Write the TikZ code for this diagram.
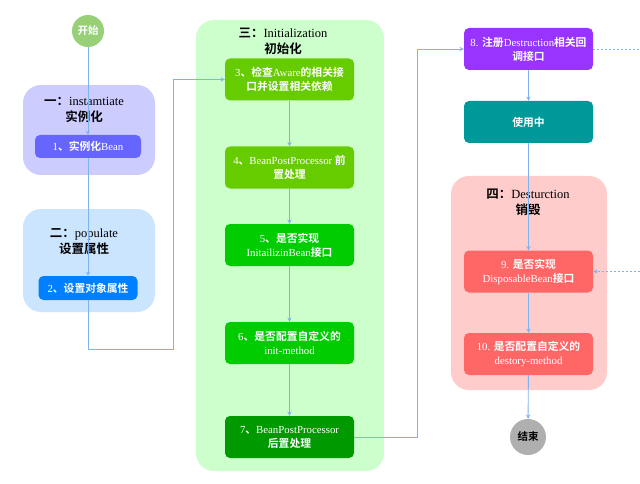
\documentclass[tikz,border=0pt]{standalone}
\usepackage{fontspec}
\setmainfont{Liberation Serif}
\newfontfamily\cjk{Noto Sans CJK SC}[BoldFont={Noto Sans CJK SC Bold}]
\usetikzlibrary{calc}
\definecolor{linkblue}{RGB}{126,178,240}
\definecolor{startgreen}{HTML}{97D077}
\definecolor{phaseA}{HTML}{CCCCFF}
\definecolor{phaseB}{HTML}{CCE5FF}
\definecolor{phaseC}{HTML}{CCFFCC}
\definecolor{phaseD}{HTML}{FFCCCC}
\definecolor{boxA}{HTML}{6666FF}
\definecolor{boxB}{HTML}{007FFF}
\definecolor{boxC}{HTML}{66CC00}
\definecolor{boxD}{HTML}{00CC00}
\definecolor{boxE}{HTML}{009900}
\definecolor{boxF}{HTML}{9933FF}
\definecolor{boxG}{HTML}{009999}
\definecolor{boxH}{HTML}{FF6666}
\definecolor{endgray}{HTML}{AFAFAF}
\tikzset{
  stepbox/.style={rounded corners=5pt, draw=none, text=white, align=center,
    minimum width=129pt, minimum height=42pt, inner sep=2pt,
    font=\fontsize{10.8}{14}\selectfont},
  phasebox/.style={rounded corners=18pt, draw=none},
  phasetitle/.style={align=center, font=\fontsize{12.5}{16}\selectfont},
  link/.style={draw=linkblue, line width=0.9pt, -stealth},
  dotlink/.style={draw=linkblue, line width=0.9pt, dash pattern=on 2pt off 2pt}
}
\newcommand{\zh}[1]{{\cjk\bfseries #1}}
\newcommand{\phase}[6]{\node[phasebox, fill=#6, minimum width=#4pt, minimum height=#5pt] (#1) at (#2,#3) {};}
\newcommand{\stage}[5]{\node[stepbox, #4] (#1) at (#2,#3) {#5};}

\begin{document}
\begin{tikzpicture}[x=1pt,y=-1pt]
        \useasboundingbox (0,0) rectangle (640,484);
        % phases
        \phase{g1}{89}{130}{132}{90}{phaseA}
        \phase{g2}{89}{260.5}{132}{103}{phaseB}
        \phase{g3}{290}{245.5}{188}{451}{phaseC}
        \phase{g4}{529}{283}{156}{214}{phaseD}
        % phase titles
        \node[phasetitle] (t1) at (84,110) {\zh{一：}instamtiate\\\zh{实例化}};
        \node[phasetitle] (t2) at (84,242) {\zh{二：}populate\\\zh{设置属性}};
        \node[phasetitle] (t3) at (283,41) {\zh{三：}Initialization\\\zh{初始化}};
        \node[phasetitle] (t4) at (528,202) {\zh{四：}Desturction\\\zh{销毁}};
        % start and end
        \node[circle, fill=startgreen, minimum size=32pt, inner sep=0pt, text=white,
          font=\fontsize{10.5}{12}\selectfont] (start) at (88,31) {\zh{开始}};
        \node[circle, fill=endgray, minimum size=36pt, inner sep=0pt,
          font=\fontsize{10.5}{12}\selectfont] (end) at (528,437) {\zh{结束}};
        % steps
        \stage{b1}{88}{146.5}{fill=boxA, minimum width=106pt, minimum height=23pt}{1\zh{、实例化}Bean}
        \stage{b2}{88}{288}{fill=boxB, minimum width=99pt, minimum height=24pt}{2\zh{、设置对象属性}}
        \stage{b3}{289.5}{79.5}{fill=boxC}{3\zh{、检查}Aware\zh{的相关接}\\\zh{口并设置相关依赖}}
        \stage{b4}{289.5}{167.5}{fill=boxC}{4\zh{、}BeanPostProcessor \zh{前}\\\zh{置处理}}
        \stage{b5}{289.5}{245}{fill=boxD}{5\zh{、是否实现}\\InitailizinBean\zh{接口}}
        \stage{b6}{289.5}{343}{fill=boxD}{6\zh{、是否配置自定义的}\\init-method}
        \stage{b7}{289.5}{437}{fill=boxE}{7\zh{、}BeanPostProcessor\\\zh{后置处理}}
        \stage{b8}{528.5}{49}{fill=boxF}{8. \zh{注册}Destruction\zh{相关回}\\\zh{调接口}}
        \stage{use}{528.5}{122}{fill=boxG}{\zh{使用中}}
        \stage{b9}{528.5}{271.5}{fill=boxH}{9. \zh{是否实现}\\DisposableBean\zh{接口}}
        \stage{b10}{528.5}{354}{fill=boxH}{10. \zh{是否配置自定义的}\\destory-method}
        % bends and free ends
        \coordinate (k1) at (173,349);
        \coordinate (k2) at (417,437);
        \coordinate (e1) at (640,49);
        \coordinate (e2) at (640,271.5);
        % connectors
        \draw[link] (start) -- (b1);
        \draw[link] (b1) -- (b2);
        \draw[link] (b2.south) |- (k1) |- (b3.west);
        \draw[link] (b3) -- (b4);
        \draw[link] (b4) -- (b5);
        \draw[link] (b5) -- (b6);
        \draw[link] (b6) -- (b7);
        \draw[link] (b7.east) -- (k2) |- (b8.west);
        \draw[link] (b8) -- (use);
        \draw[link] (use) -- (b9);
        \draw[link] (b9) -- (b10);
        \draw[link] (b10) -- (end);
        \draw[dotlink] (b8.east) -- (e1);
        \draw[dotlink, -stealth] (e2) -- (b9.east);
\end{tikzpicture}
\end{document}
